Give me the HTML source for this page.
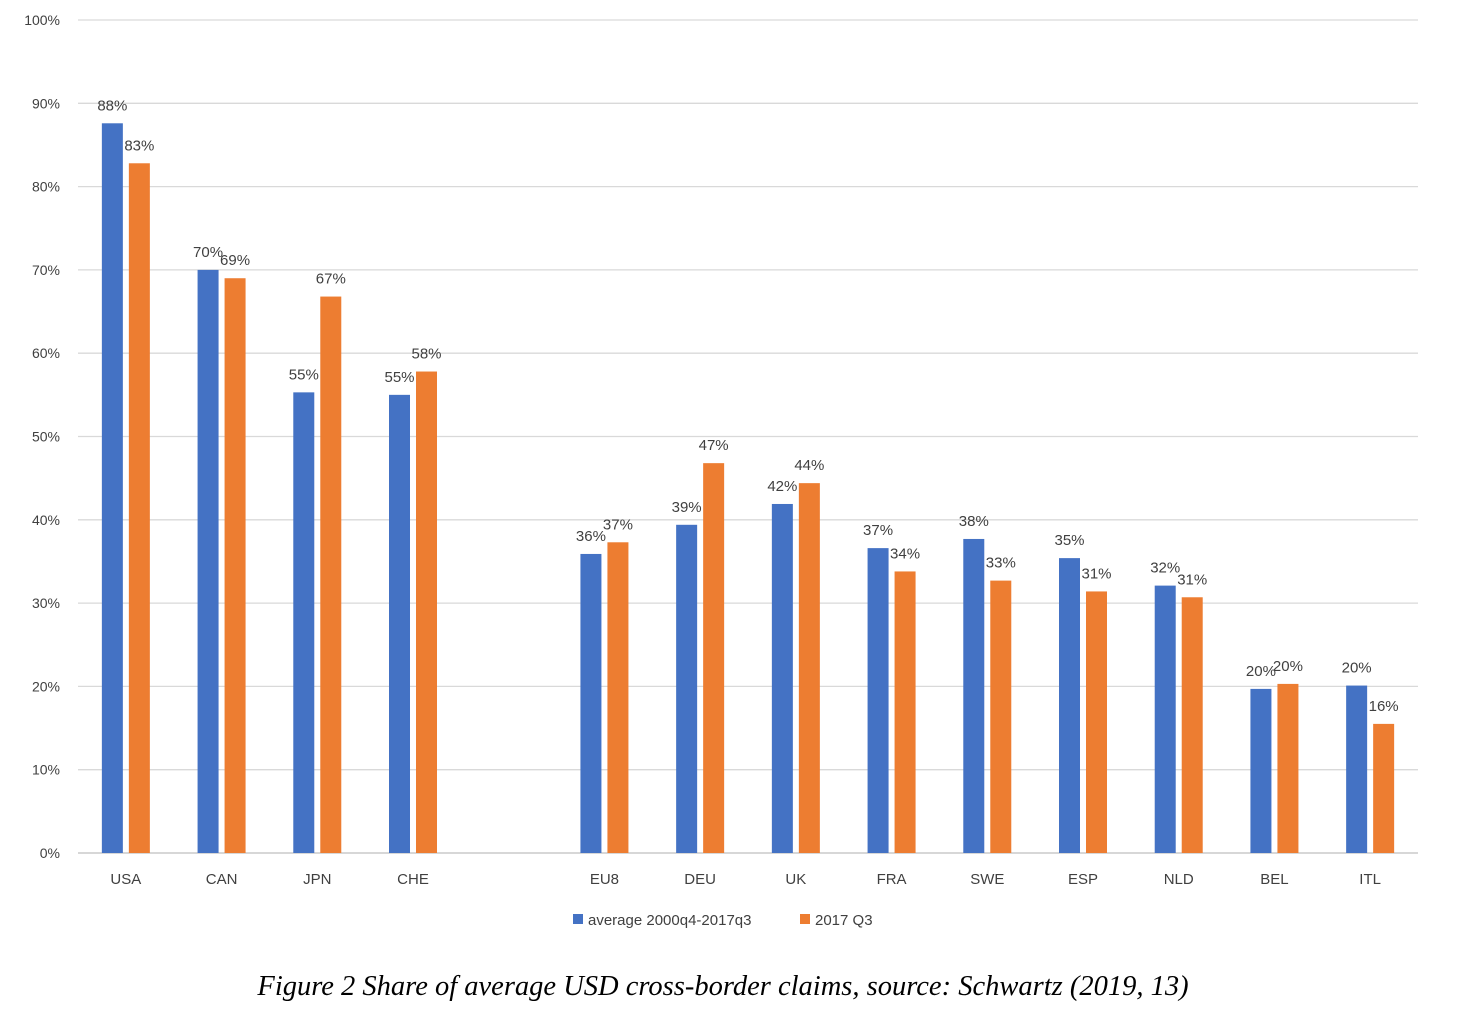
<!DOCTYPE html>
<html><head><meta charset="utf-8"><style>
body{margin:0;background:#fff;width:1474px;height:1012px;overflow:hidden}
svg{display:block}
text{font-family:"Liberation Sans",sans-serif;fill:#404040}
</style></head><body>
<svg id="chart" width="1474" height="1012" xmlns="http://www.w3.org/2000/svg">
<g id="grid"></g>
<g id="yticks"></g>
<g id="bars"></g>
<g id="labels"></g>
<g id="xticks"></g>
<g>
<rect x="573" y="914" width="10" height="10" fill="#4472c4"/>
<text x="588" y="925" font-size="15">average 2000q4-2017q3</text>
<rect x="800" y="914" width="10" height="10" fill="#ed7d31"/>
<text x="815" y="925" font-size="15">2017 Q3</text>
</g>
<text x="723" y="995" text-anchor="middle" font-size="28.5" font-style="italic" style="font-family:'Liberation Serif',serif;fill:#000">Figure 2 Share of average USD cross-border claims, source: Schwartz (2019, 13)</text>
</svg>
<script>
const categories=["USA","CAN","JPN","CHE","","EU8","DEU","UK","FRA","SWE","ESP","NLD","BEL","ITL"];
const avgValues=[87.6,70,55.3,55,null,35.9,39.4,41.9,36.6,37.7,35.4,32.1,19.7,20.1];
const q3Values=[82.8,69,66.8,57.8,null,37.3,46.8,44.4,33.8,32.7,31.4,30.7,20.3,15.5];
const yTicks=[0,10,20,30,40,50,60,70,80,90,100];
const NS="http://www.w3.org/2000/svg";
const x0=78,x1=1418,yb=853,yt=20;
const slot=(x1-x0)/categories.length;
function xc(i){return x0+slot*(i+0.5);}
function y(v){return yb-(v/100)*(yb-yt);}
function mk(p,tag,at,txt){const e=document.createElementNS(NS,tag);for(const k in at)e.setAttribute(k,at[k]);if(txt!==undefined)e.textContent=txt;document.getElementById(p).appendChild(e);return e;}
yTicks.forEach(t=>{
  const l=mk("grid","line",{x1:x0,x2:x1,y1:y(t),y2:y(t),stroke:t===0?"#bfbfbf":"#d9d9d9","stroke-width":1.3});
  
  
  const tx=mk("yticks","text",{x:60,y:y(t)+5,"text-anchor":"end","font-size":14},t+"%");
  
  
});
categories.forEach((c,i)=>{
  if(!c)return;
  const cx=xc(i);
  const t=mk("xticks","text",{x:cx,y:884,"text-anchor":"middle","font-size":15},c);
  
  
  [[avgValues[i],cx-24,"#4472c4"],[q3Values[i],cx+3,"#ed7d31"]].forEach(([v,bx,col],k)=>{
    const r=mk("bars","rect",{x:bx,y:y(v),width:21,height:yb-y(v),fill:col});
    
    
    const lb=mk("labels","text",{x:bx+10.5,y:y(v)-13,"text-anchor":"middle","font-size":15},Math.round(v)+"%");
    
    
  });
});
</script>
</body></html>
